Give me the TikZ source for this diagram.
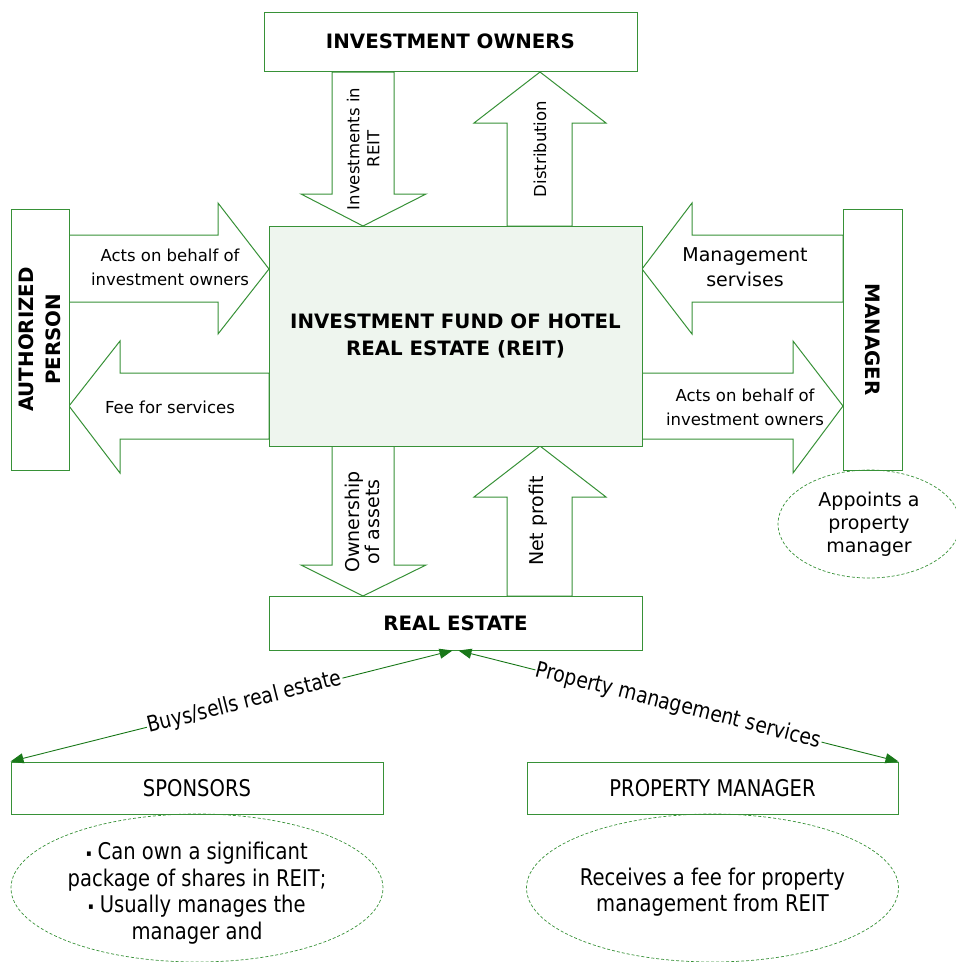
\documentclass[tikz,border=0pt]{standalone}
\usepackage{fontspec}
\setmainfont{DejaVu Sans}
\newfontfamily\condfont{DejaVu Sans}[FakeStretch=0.85]
\usetikzlibrary{arrows.meta,shapes.geometric}
\definecolor{gline}{RGB}{55,145,55}
\definecolor{gdark}{RGB}{25,120,25}
\definecolor{gfill}{RGB}{238,245,238}
\begin{document}
\begin{tikzpicture}[x=1pt,y=-1pt,
  box/.style={draw=gline, line width=1pt, fill=white, inner sep=0pt, align=center},
  blockarrow/.style={draw=gline, line width=1pt, fill=white, line join=miter},
  ttl/.style={font=\bfseries\fontsize{19.8}{27}\selectfont},
  lbl/.style={font=\fontsize{16.5}{24}\selectfont, align=center, inner sep=0pt},
  lblv/.style={font=\fontsize{16.5}{20}\selectfont, align=center, inner sep=0pt, rotate=90},
  lblbig/.style={font=\fontsize{19}{25}\selectfont, align=center, inner sep=0pt},
  lblbigv/.style={font=\fontsize{19}{20}\selectfont, align=center, inner sep=0pt, rotate=90},
  note/.style={draw=gline, line width=0.7pt, dash pattern=on 3pt off 2pt, ellipse, inner sep=0pt},
  cond/.style={font=\condfont\fontsize{23}{26.5}\selectfont, align=center, inner sep=0pt},
  conn/.style={draw=gdark, line width=0.9pt, {Triangle[length=13pt,width=10pt]}-{Triangle[length=13pt,width=10pt]}},
  clbl/.style={font=\condfont\fontsize{22}{24}\selectfont, fill=white, inner sep=1pt}
]
\useasboundingbox (0,0) rectangle (956,962);

% block arrows
\draw[blockarrow] (332,72) -- (394,72) -- (394,194) -- (426,194) -- (363,226) -- (301,194) -- (332,194) -- cycle;
\draw[blockarrow] (507,226) -- (507,123) -- (474,123) -- (540,72) -- (606,123) -- (572,123) -- (572,226) -- cycle;
\draw[blockarrow] (332,446) -- (394,446) -- (394,565) -- (426,565) -- (363,596) -- (301,565) -- (332,565) -- cycle;
\draw[blockarrow] (507,596) -- (507,497) -- (474,497) -- (540,446) -- (606,497) -- (572,497) -- (572,596) -- cycle;
\draw[blockarrow] (69,235) -- (218,235) -- (218,203) -- (269,269) -- (218,334) -- (218,302) -- (69,302) -- cycle;
\draw[blockarrow] (269,373) -- (120,373) -- (120,341) -- (69,406) -- (120,473) -- (120,439) -- (269,439) -- cycle;
\draw[blockarrow] (843,235) -- (692,235) -- (692,203) -- (642,269) -- (692,334) -- (692,302) -- (843,302) -- cycle;
\draw[blockarrow] (642,373) -- (793,373) -- (793,341) -- (843,406) -- (793,473) -- (793,439) -- (642,439) -- cycle;

% boxes
\node[box, ttl, minimum width=373pt, minimum height=59pt] (owners) at (450.5,41.5) {INVESTMENT OWNERS};
\node[box, ttl, fill=gfill, minimum width=373pt, minimum height=220pt] (reit) at (455.5,336) {INVESTMENT FUND OF HOTEL\\REAL ESTATE (REIT)};
\node[box, ttl, minimum width=373pt, minimum height=54pt] (realestate) at (455.5,623) {REAL ESTATE};
\node[box, ttl, rotate=90, minimum width=261pt, minimum height=58pt] (auth) at (40,339.5) {AUTHORIZED\\PERSON};
\node[box, ttl, rotate=-90, minimum width=261pt, minimum height=59pt] (manager) at (872.5,339.5) {MANAGER};
\node[box, cond, minimum width=372pt, minimum height=52pt] (sponsors) at (197,788) {SPONSORS};
\node[box, cond, minimum width=371pt, minimum height=52pt] (propmgr) at (712.5,788) {PROPERTY MANAGER};

% arrow labels
\node[lblv] (tInv) at (363,149) {Investments in\\REIT};
\node[lblv] (tDist) at (540,149) {Distribution};
\node[lblbigv] (tOwn) at (362,522) {Ownership\\of assets};
\node[lblbigv] (tNet) at (538,521) {Net profit};
\node[lbl] (tActsL) at (170,267) {Acts on behalf of\\investment owners};
\node[lbl] (tFee) at (170,407) {Fee for services};
\node[lblbig] (tMgmt) at (745,267) {Management\\servises};
\node[lbl] (tActsR) at (745,407) {Acts on behalf of\\investment owners};

% notes
\node[note, minimum width=182pt, minimum height=108pt] (appoint) at (869,524) {};
\node[lblbig, font=\fontsize{19}{23}\selectfont] (tAppoint) at (appoint.center) {Appoints a\\property\\manager};
\node[note, minimum width=372pt, minimum height=148pt] (spnote) at (197,888) {};
\node[cond] (tSp) at ([yshift=-5pt]spnote.center) {{\fontsize{9}{9}\selectfont\raisebox{3pt}{▪}} Can own a significant\\package of shares in REIT;\\{\fontsize{9}{9}\selectfont\raisebox{3pt}{▪}} Usually manages the\\manager and};
\node[note, minimum width=372pt, minimum height=148pt] (pmnote) at (712.5,888) {};
\node[cond] (tPm) at ([yshift=-4pt]pmnote.center) {Receives a fee for property\\management from REIT};

% connectors
\coordinate (reL) at ([xshift=-3pt]realestate.south);
\coordinate (reR) at ([xshift=3pt]realestate.south);
\draw[conn] (reL) -- node[clbl, pos=0.47, sloped] (lBuy) {Buys/sells real estate} (sponsors.north west);
\draw[conn] (reR) -- node[clbl, pos=0.5, sloped] (lPms) {Property management services} (propmgr.north east);
\end{tikzpicture}
\end{document}
